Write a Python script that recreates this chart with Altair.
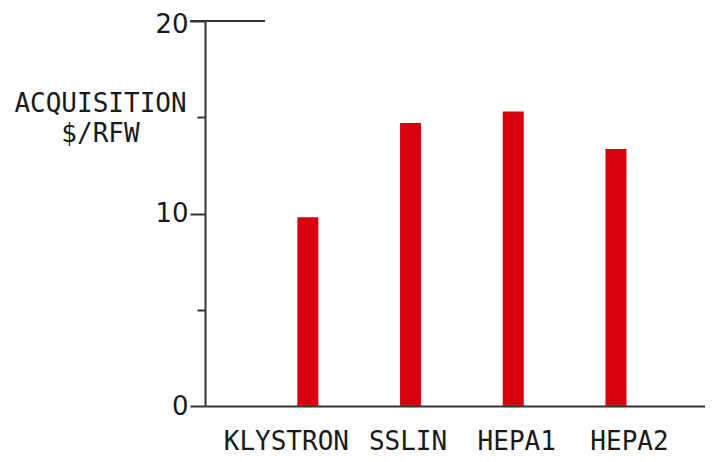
import altair as alt
import pandas as pd

categories = ["KLYSTRON", "SSLIN", "HEPA1", "HEPA2"]
values = [9.8, 14.7, 15.3, 13.35]
y_ticks = [0, 5, 10, 15, 20]
label_offsets = [-22, -3, 3, 13]

df = pd.DataFrame({"name": categories, "cost": values})

FONT = "DejaVu Sans Mono"
AX = "#333333"
TXT = "#1a1a1a"

offset_cond = [
    {"test": f"datum.value == '{c}'", "value": o}
    for c, o in zip(categories, label_offsets)
]

x_enc = alt.X(
    "name:N",
    sort=categories,
    scale=alt.Scale(type="point", padding=0.934, align=0.536),
    axis=alt.Axis(
        title=None,
        ticks=False,
        domainColor=AX,
        domainWidth=2,
        labelFont=FONT,
        labelFontSize=26,
        labelColor=TXT,
        labelAngle=0,
        labelPadding=35,
        labelBaseline="middle",
        labelOffset={"condition": offset_cond, "value": 0},
        labelFlush=False,
        labelOverlap=False,
    ),
)

y_enc = alt.Y(
    "cost:Q",
    scale=alt.Scale(domain=[0, 20], nice=False),
    axis=alt.Axis(
        values=y_ticks,
        grid=False,
        domainColor=AX,
        domainWidth=2,
        tickColor=AX,
        tickWidth=2,
        tickSize={"condition": {"test": "datum.value % 10 == 0", "value": 15}, "value": 8},
        labelExpr="datum.value % 10 == 0 ? datum.label : ''",
        labelFont="DejaVu Sans",
        labelFontSize=26,
        labelColor=TXT,
        labelPadding=2,
        labelFlush=False,
        labelOffset={"condition": {"test": "datum.value == 20", "value": 3}, "value": 0},
        title=["ACQUISITION", "$/RFW"],
        titleAngle=0,
        titleAlign="center",
        titleBaseline="middle",
        titleX=-105,
        titleY=82,
        titleFont=FONT,
        titleFontSize=26,
        titleFontWeight="normal",
        titleColor=TXT,
        titleLineHeight=30,
    ),
)

bars = alt.Chart(df).mark_bar(size=21, color="#d7000f").encode(x=x_enc, y=y_enc)

top_line = alt.Chart(pd.DataFrame({"top": [20]})).mark_rule(
    color=AX, strokeWidth=2
).encode(y=alt.Y("top:Q"), x=alt.value(-15), x2=alt.value(60))

chart = (
    alt.layer(bars, top_line)
    .properties(
        width=500,
        height=385,
        background="white",
        padding={"left": 197, "top": 13, "right": 0, "bottom": 48},
        autosize=alt.AutoSizeParams(type="none"),
    )
    .configure_view(stroke="transparent", strokeWidth=0)
    .configure_axis(grid=False)
)

chart.save("out.html", embed_options={"renderer": "svg", "actions": False})
